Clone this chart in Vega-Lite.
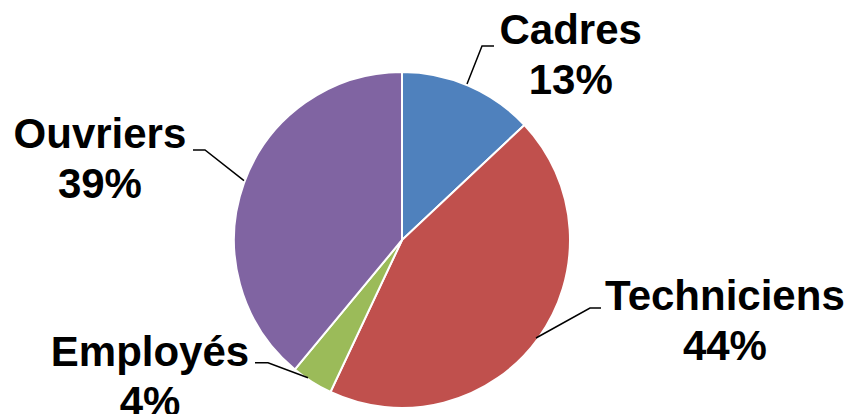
{
  "$schema": "https://vega.github.io/schema/vega-lite/v6.json",
  "autosize": "none",
  "width": 804,
  "height": 348,
  "padding": {"left": 0, "top": 66, "right": 48, "bottom": 0},
  "background": "white",
  "config": {"view": {"stroke": null}},
  "data": {
    "values": [
      {"cat": "Cadres", "pct": 0.13, "rank": 1},
      {"cat": "Techniciens", "pct": 0.44, "rank": 2},
      {"cat": "Employés", "pct": 0.04, "rank": 3},
      {"cat": "Ouvriers", "pct": 0.39, "rank": 4}
    ]
  },
  "transform": [
    {"calculate": "datum.cat + '\\n' + format(datum.pct, '.0%')", "as": "label"}
  ],
  "layer": [
    {
      "mark": {"type": "arc", "outerRadius": 168, "stroke": "white", "strokeWidth": 2},
      "encoding": {
        "theta": {"field": "pct", "type": "quantitative", "stack": true},
        "order": {"field": "rank", "type": "quantitative"},
        "color": {
          "field": "cat",
          "type": "nominal",
          "scale": {
            "domain": ["Cadres", "Techniciens", "Employés", "Ouvriers"],
            "range": ["#4F81BD", "#C0504D", "#9BBB59", "#8064A2"]
          },
          "legend": null
        }
      }
    },
    {
      "mark": {"type": "point", "filled": false, "size": 4, "strokeWidth": 1.5, "color": "black", "opacity": 1},
      "encoding": {
        "shape": {
          "field": "cat",
          "type": "nominal",
          "scale": {
            "domain": ["Cadres", "Techniciens", "Employés", "Ouvriers"],
            "range": [
              "M65,-156L80,-194L92,-194",
              "M134,98L188,68L199,68",
              "M-94,137.7L-134,122.7L-147,122.7",
              "M-158,-59.3L-197,-90L-209,-90"
            ]
          },
          "legend": null
        }
      }
    },
    {
      "mark": {"type": "text", "radius": 168, "dx": 102, "dy": -55, "font": "Liberation Sans", "fontWeight": "bold", "fontSize": 42, "lineHeight": 50, "lineBreak": "\n", "align": "center", "baseline": "middle", "color": "black"},
      "encoding": {
        "theta": {"field": "pct", "type": "quantitative", "stack": true},
        "order": {"field": "rank", "type": "quantitative"},
        "text": {"condition": {"test": "datum.cat === 'Cadres'", "field": "label"}, "value": ""}
      }
    },
    {
      "mark": {"type": "text", "radius": 168, "dx": 187, "dy": -42, "font": "Liberation Sans", "fontWeight": "bold", "fontSize": 42, "lineHeight": 50, "lineBreak": "\n", "align": "center", "baseline": "middle", "color": "black"},
      "encoding": {
        "theta": {"field": "pct", "type": "quantitative", "stack": true},
        "order": {"field": "rank", "type": "quantitative"},
        "text": {"condition": {"test": "datum.cat === 'Techniciens'", "field": "label"}, "value": ""}
      }
    },
    {
      "mark": {"type": "text", "radius": 168, "dx": -162, "dy": -29, "font": "Liberation Sans", "fontWeight": "bold", "fontSize": 42, "lineHeight": 50, "lineBreak": "\n", "align": "center", "baseline": "middle", "color": "black"},
      "encoding": {
        "theta": {"field": "pct", "type": "quantitative", "stack": true},
        "order": {"field": "rank", "type": "quantitative"},
        "text": {"condition": {"test": "datum.cat === 'Employés'", "field": "label"}, "value": ""}
      }
    },
    {
      "mark": {"type": "text", "radius": 168, "dx": -144, "dy": -48, "font": "Liberation Sans", "fontWeight": "bold", "fontSize": 42, "lineHeight": 50, "lineBreak": "\n", "align": "center", "baseline": "middle", "color": "black"},
      "encoding": {
        "theta": {"field": "pct", "type": "quantitative", "stack": true},
        "order": {"field": "rank", "type": "quantitative"},
        "text": {"condition": {"test": "datum.cat === 'Ouvriers'", "field": "label"}, "value": ""}
      }
    }
  ]
}
